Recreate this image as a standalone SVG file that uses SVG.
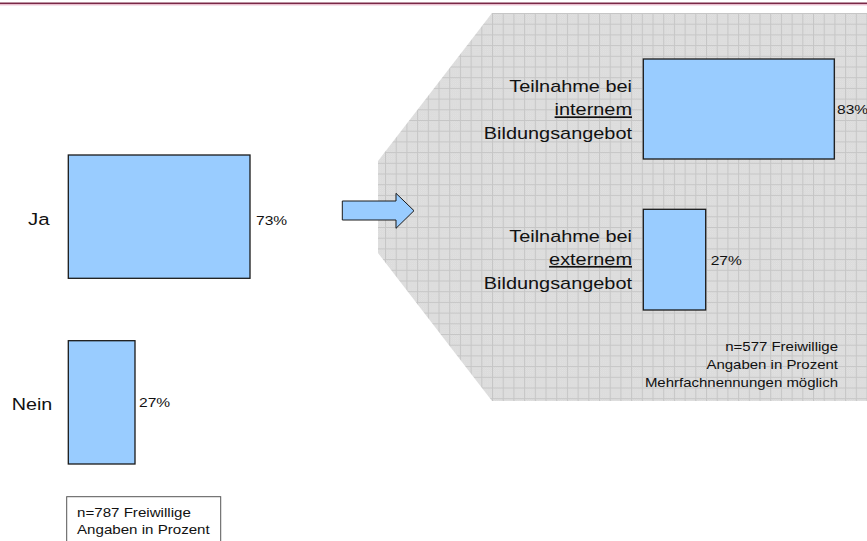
<svg xmlns="http://www.w3.org/2000/svg" width="867" height="541" viewBox="0 0 867 541">
  <style>
    text { font-family: "Liberation Sans", Arial, sans-serif; fill: #111; }
    .big { font-size: 17px; }
    .pct { font-size: 13.2px; }
    .note { font-size: 12.6px; }
    .end { text-anchor: end; }
    .bar { fill: #99ccff; stroke: #1a1a1a; stroke-width: 1.3; }
  </style>
  <defs>
    <!-- fine checker texture for the shaded panel -->
    <pattern id="dots" width="2" height="2" patternUnits="userSpaceOnUse">
      <rect width="2" height="2" fill="#d8d8d8"/>
      <rect width="1" height="1" fill="#e2e2e2"/>
      <rect x="1" y="1" width="1" height="1" fill="#e2e2e2"/>
    </pattern>
    <!-- grid over the texture -->
    <pattern id="grid" width="10.7" height="10.7" patternUnits="userSpaceOnUse" x="492" y="13">
      <rect width="10.7" height="10.7" fill="url(#dots)"/>
      <path d="M0 0.5H10.7M0.5 0V10.7" stroke="#c6c6c6" stroke-width="1" fill="none"/>
    </pattern>
  </defs>

  <rect width="867" height="541" fill="#ffffff"/>

  <!-- header rule -->
  <g id="header">
    <line x1="0" y1="3.3" x2="867" y2="3.3" stroke="#7a2846" stroke-width="1.4"/>
    <line x1="0" y1="4.8" x2="867" y2="4.8" stroke="#e0a4bb" stroke-width="1"/>
  </g>

  <!-- shaded panel for the follow-up question -->
  <g id="panel">
    <polygon points="492,13 867,13 867,401 492,401 378,253 378,161" fill="url(#grid)"/>
  </g>

  <!-- left chart: all volunteers -->
  <g id="bar-ja">
    <rect class="bar" x="68.3" y="155" width="181.7" height="123.3"/>
    <text class="big" transform="translate(28,225) scale(1.2,1)">Ja</text>
    <text class="pct" transform="translate(256,225) scale(1.18,1)">73%</text>
  </g>

  <g id="bar-nein">
    <rect class="bar" x="68.3" y="340.7" width="66.7" height="123.3"/>
    <text class="big" transform="translate(11.7,410) scale(1.16,1)">Nein</text>
    <text class="pct" transform="translate(139,407) scale(1.18,1)">27%</text>
  </g>

  <g id="legend-left">
    <rect x="66.7" y="496.7" width="154" height="60" fill="#ffffff" stroke="#555555" stroke-width="1"/>
    <text class="note" transform="translate(77,516.7) scale(1.2,1)">n=787 Freiwillige</text>
    <text class="note" transform="translate(77,534) scale(1.2,1)">Angaben in Prozent</text>
  </g>

  <!-- connector arrow -->
  <g id="connectors">
    <polygon points="342.3,201 396,201 396,193.3 414,210.7 396,228.3 396,220 342.3,220" fill="#99ccff" stroke="#1a1a1a" stroke-width="1"/>
  </g>

  <!-- right chart: type of training -->
  <g id="bar-intern">
    <rect class="bar" x="643.3" y="59" width="191" height="100"/>
    <text class="big end" transform="translate(632,91.7) scale(1.17,1)">Teilnahme bei</text>
    <text class="big end" transform="translate(632,115.4) scale(1.17,1)" text-decoration="underline">internem</text>
    <text class="big end" transform="translate(632,139) scale(1.17,1)">Bildungsangebot</text>
    <text class="pct" transform="translate(837,114) scale(1.18,1)">83%</text>
  </g>

  <g id="bar-extern">
    <rect class="bar" x="643.3" y="209.3" width="62.4" height="100.7"/>
    <text class="big end" transform="translate(632,241.5) scale(1.17,1)">Teilnahme bei</text>
    <text class="big end" transform="translate(632,265) scale(1.17,1)" text-decoration="underline">externem</text>
    <text class="big end" transform="translate(632,288.7) scale(1.17,1)">Bildungsangebot</text>
    <text class="pct" transform="translate(710.7,265) scale(1.18,1)">27%</text>
  </g>

  <g id="legend-right">
    <text class="note end" transform="translate(838,351) scale(1.19,1)">n=577 Freiwillige</text>
    <text class="note end" transform="translate(838,369) scale(1.19,1)">Angaben in Prozent</text>
    <text class="note end" transform="translate(838,387) scale(1.19,1)">Mehrfachnennungen möglich</text>
  </g>
</svg>
